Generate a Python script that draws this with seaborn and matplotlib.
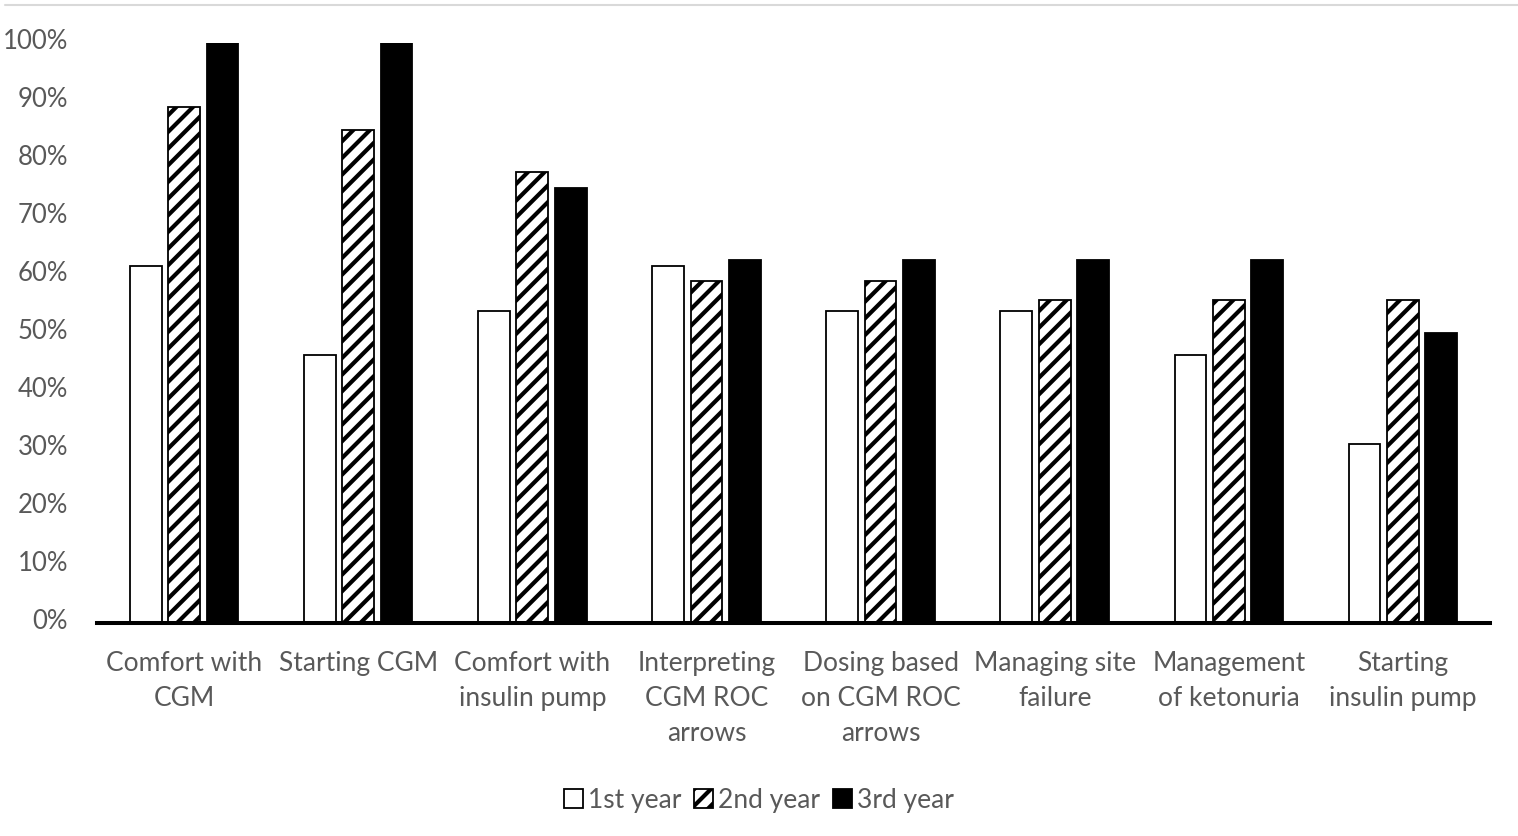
import numpy as np
import pandas as pd
import matplotlib.pyplot as plt
import matplotlib.lines as mlines
from matplotlib.transforms import ScaledTranslation
import seaborn as sns

skills = ["Comfort with\nCGM", "Starting CGM", "Comfort with\ninsulin pump",
          "Interpreting\nCGM ROC\narrows", "Dosing based\non CGM ROC\narrows",
          "Managing site\nfailure", "Management\nof ketonuria", "Starting\ninsulin pump"]
years = ["1st year", "2nd year", "3rd year"]
first_year = [61.5, 46.2, 53.8, 61.5, 53.8, 53.8, 46.2, 30.8]
second_year = [88.9, 85.0, 77.8, 59.0, 59.0, 55.6, 55.6, 55.6]
third_year = [100, 100, 75.0, 62.5, 62.5, 62.5, 62.5, 50.0]

rows = []
for yr, vals in zip(years, [first_year, second_year, third_year]):
    for s, v in zip(skills, vals):
        rows.append({"skill": s, "year": yr, "value": v / 100})
df = pd.DataFrame(rows)

sns.set_style("white")
plt.rcParams['font.family'] = ['Lato', 'DejaVu Sans']
plt.rcParams['hatch.linewidth'] = 3.0
plt.rcParams['hatch.color'] = 'black'

fig = plt.figure(figsize=(15.18, 8.36), dpi=100)
ax = fig.add_axes([0.064, 0.2548, 0.9175, 0.6938])

sns.barplot(data=df, x="skill", y="value", hue="year", palette=["white", "white", "black"],
            edgecolor="black", linewidth=1.3, width=0.66, gap=0.17, ax=ax, legend=False)

# 2nd year bars get the diagonal hatch
for p in ax.containers[1]:
    p.set_hatch("//")

ax.set_ylim(0, 1)
ax.set_xlim(-0.5, 7.5)
ticks = np.arange(0, 1.01, 0.1)
ax.set_yticks(ticks)
ax.set_yticklabels([f"{int(round(t * 100))}%" for t in ticks])
ax.set_xticks(range(len(skills)))
ax.set_xticklabels(skills)
ax.set_xlabel("")
ax.set_ylabel("")
for s in ["top", "right", "left"]:
    ax.spines[s].set_visible(False)
ax.spines["bottom"].set_linewidth(2.9)
ax.spines["bottom"].set_color("black")
ax.tick_params(axis="y", length=0, pad=21, labelsize=18.5, labelcolor="#595959")
ax.tick_params(axis="x", length=0, pad=20, labelsize=19, labelcolor="#595959")
shift = ScaledTranslation(0, 0.035, fig.dpi_scale_trans)
for lbl in ax.get_yticklabels():
    lbl.set_transform(lbl.get_transform() + shift)
for t in ax.xaxis.get_major_ticks():
    t.label1.set_linespacing(1.5)

fig.legend(ax.containers, years, loc="center", bbox_to_anchor=(0.5, 0.043), ncol=3,
           frameon=False, fontsize=19, labelcolor="#595959", handlelength=0.7,
           handleheight=0.7, handletextpad=0.2, columnspacing=0.5)

fig.add_artist(mlines.Line2D([0.003, 1.0], [0.994, 0.994], color="#d9d9d9", linewidth=1.5))

fig.savefig("out.png", dpi=100, facecolor="white")
